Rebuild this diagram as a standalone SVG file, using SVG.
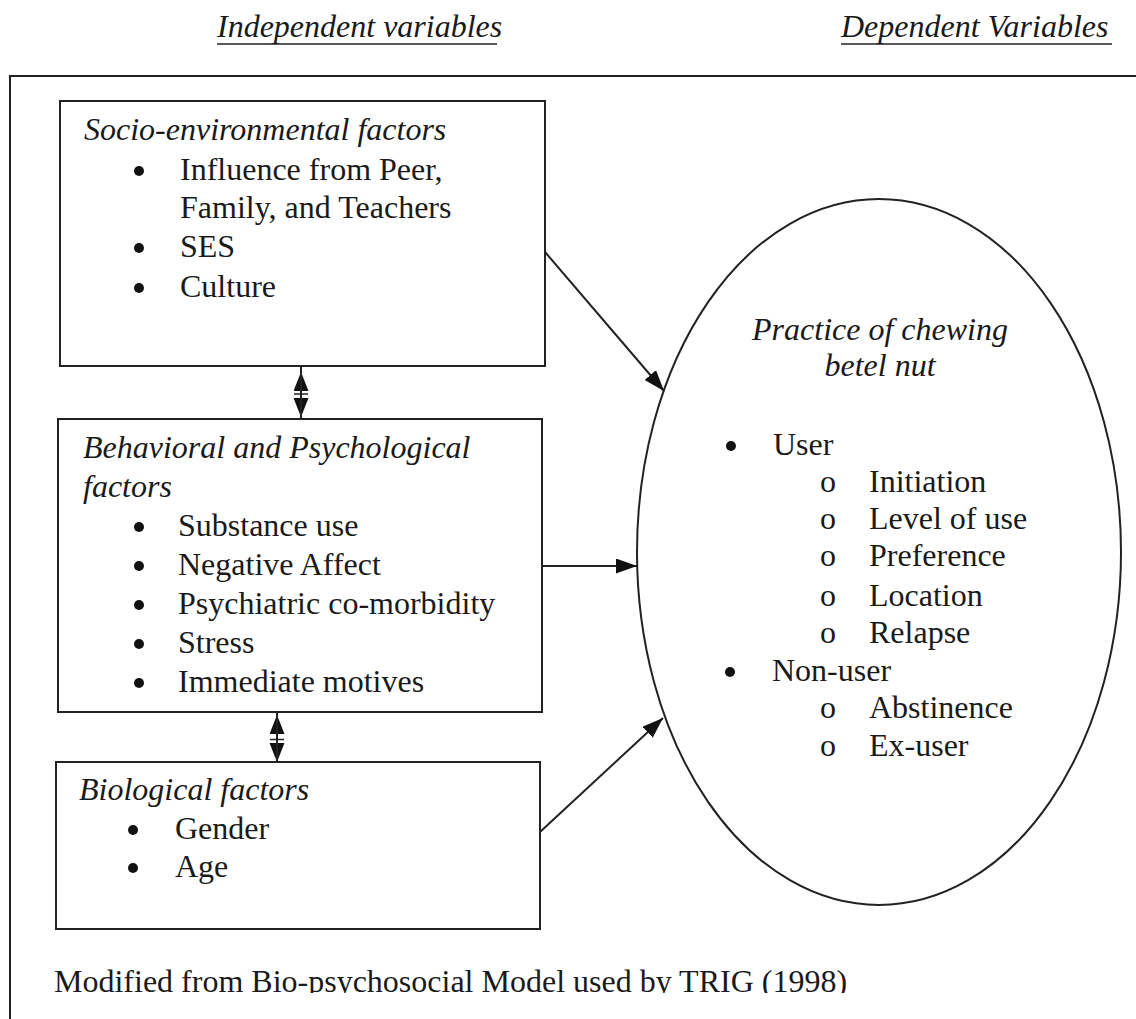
<svg xmlns="http://www.w3.org/2000/svg" width="1136" height="1019" viewBox="0 0 1136 1019">
<style>
text{font-family:"Liberation Serif","Times New Roman",serif;font-size:32px;fill:#1a1a1a}
.it{font-style:italic}
.box{fill:#fff;stroke:#222;stroke-width:2}
.ln{stroke:#222;stroke-width:2;fill:none}
.ul{stroke:#222;stroke-width:1.5}
.b{fill:#111}
</style>
<defs>
<marker id="ah" markerUnits="userSpaceOnUse" markerWidth="22" markerHeight="16" refX="21" refY="7.5" orient="auto">
<path d="M0,0 L21,7.5 L0,15 z" fill="#111"/>
</marker>
<marker id="dh" markerUnits="userSpaceOnUse" markerWidth="20" markerHeight="16" refX="19" refY="7.5" orient="auto-start-reverse">
<path d="M0,0 L19,7.5 L0,15 z" fill="#111"/>
</marker>
<clipPath id="fc"><rect x="0" y="0" width="1136" height="993"/></clipPath>
</defs>
<rect width="1136" height="1019" fill="#fff"/>

<g id="headings">
<text class="it" x="217" y="37">Independent variables</text>
<line class="ul" x1="217" y1="44" x2="497" y2="44"/>
<text class="it" x="841" y="37">Dependent Variables</text>
<line class="ul" x1="841" y1="44" x2="1112" y2="44"/>
</g>

<g id="frame">
<path class="ln" d="M10,1019 L10,76 L1136,76"/>
</g>

<g id="socio">
<rect class="box" x="60" y="101" width="485" height="265"/>
<text class="it" x="84" y="140">Socio-environmental factors</text>
<circle class="b" cx="139" cy="171" r="5"/><text x="180" y="180">Influence from Peer,</text>
<text x="180" y="218">Family, and Teachers</text>
<circle class="b" cx="139" cy="248" r="5"/><text x="180" y="257">SES</text>
<circle class="b" cx="139" cy="288" r="5"/><text x="180" y="297">Culture</text>
</g>

<g id="behavioral">
<rect class="box" x="58" y="419" width="484" height="293"/>
<text class="it" x="83" y="458">Behavioral and Psychological</text>
<text class="it" x="83" y="497">factors</text>
<circle class="b" cx="139" cy="527" r="5"/><text x="178" y="536">Substance use</text>
<circle class="b" cx="139" cy="566" r="5"/><text x="178" y="575">Negative Affect</text>
<circle class="b" cx="139" cy="605" r="5"/><text x="178" y="614">Psychiatric co-morbidity</text>
<circle class="b" cx="139" cy="644" r="5"/><text x="178" y="653">Stress</text>
<circle class="b" cx="139" cy="683" r="5"/><text x="178" y="692">Immediate motives</text>
</g>

<g id="biological">
<rect class="box" x="56" y="762" width="484" height="167"/>
<text class="it" x="79" y="800">Biological factors</text>
<circle class="b" cx="133" cy="830" r="5"/><text x="175" y="839">Gender</text>
<circle class="b" cx="133" cy="868" r="5"/><text x="175" y="877">Age</text>
</g>

<g id="practice">
<ellipse class="ln" cx="879" cy="552" rx="242" ry="353"/>
<text class="it" x="880" y="340" text-anchor="middle">Practice of chewing</text>
<text class="it" x="880" y="376" text-anchor="middle">betel nut</text>
<circle class="b" cx="731" cy="446" r="5"/><text x="773" y="455">User</text>
<text x="820" y="492">o</text><text x="869" y="492">Initiation</text>
<text x="820" y="529">o</text><text x="869" y="529">Level of use</text>
<text x="820" y="566">o</text><text x="869" y="566">Preference</text>
<text x="820" y="606">o</text><text x="869" y="606">Location</text>
<text x="820" y="643">o</text><text x="869" y="643">Relapse</text>
<circle class="b" cx="730" cy="672" r="5"/><text x="772" y="681">Non-user</text>
<text x="820" y="718">o</text><text x="869" y="718">Abstinence</text>
<text x="820" y="756">o</text><text x="869" y="756">Ex-user</text>
</g>

<g id="connectors">
<line class="ln" x1="545" y1="252" x2="664" y2="391" marker-end="url(#ah)"/>
<line class="ln" x1="542" y1="566" x2="637" y2="566" marker-end="url(#ah)"/>
<line class="ln" x1="540" y1="832" x2="663" y2="718" marker-end="url(#ah)"/>
<line class="ln" x1="301" y1="391" x2="301" y2="372" marker-end="url(#dh)"/>
<line class="ln" x1="301" y1="397" x2="301" y2="417" marker-end="url(#dh)"/>
<line class="ln" x1="301" y1="366" x2="301" y2="419"/>
<line class="ul" x1="294" y1="394" x2="308" y2="394"/>
<line class="ln" x1="277" y1="737" x2="277" y2="715" marker-end="url(#dh)"/>
<line class="ln" x1="277" y1="742" x2="277" y2="762" marker-end="url(#dh)"/>
<line class="ln" x1="277" y1="712" x2="277" y2="762"/>
<line class="ul" x1="270" y1="739.5" x2="284" y2="739.5"/>
</g>

<g id="footer" clip-path="url(#fc)">
<text x="54" y="992">Modified from Bio-psychosocial Model used by TRIG (1998)</text>
</g>
</svg>
